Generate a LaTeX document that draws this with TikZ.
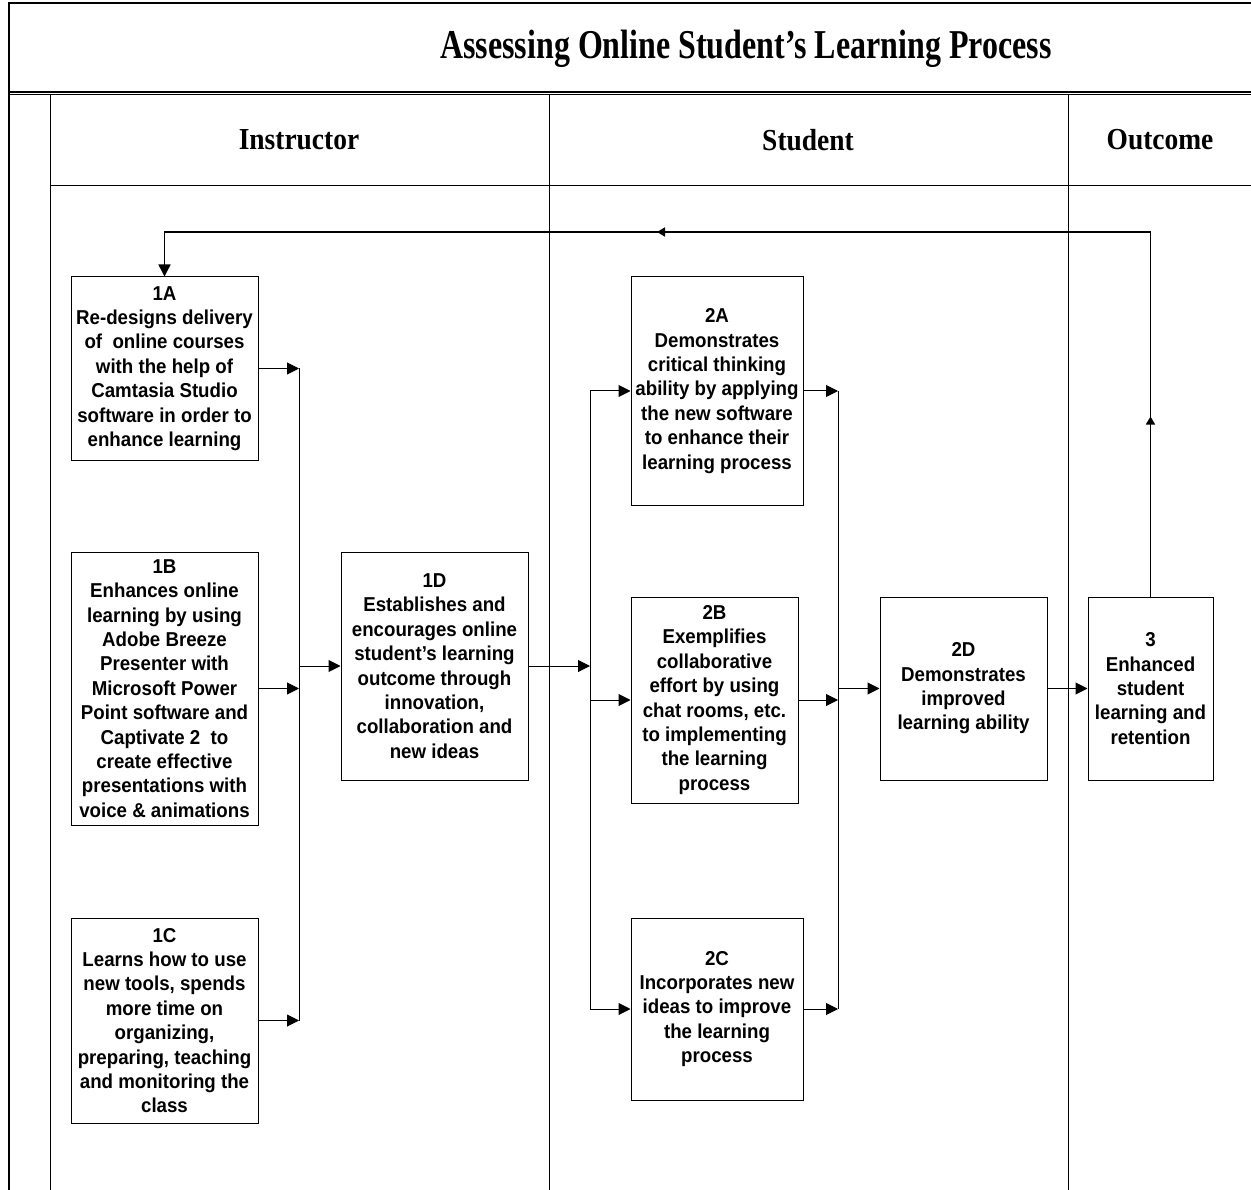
\documentclass[tikz,border=0pt]{standalone}
\usepackage{fontspec}
\setmainfont{Liberation Serif}
\newfontfamily\titlefont[FakeStretch=0.78]{Liberation Serif}
\newfontfamily\hdrfont[FakeStretch=0.9]{Liberation Serif}
\newfontfamily\boxfont[FakeStretch=0.93]{Liberation Sans}
\usetikzlibrary{arrows.meta,decorations.markings}
\begin{document}
\begin{tikzpicture}[x=1pt,y=-1pt,line width=1pt,
  box/.style={draw,line width=1pt,inner sep=0pt,align=center,
    font=\boxfont\bfseries\fontsize{20.1}{24.4}\selectfont},
  arr/.style={-{Triangle[length=12pt,width=12pt]}},
  frameline/.style={line width=1.2pt},
  hdr/.style={font=\hdrfont\bfseries\fontsize{30.5}{32}\selectfont},
  smallarr/.style={decoration={markings,
     mark=at position 180pt with {\arrow{Triangle[length=8pt,width=9pt]}},
     mark=at position 858pt with {\arrow{Triangle[length=8pt,width=9pt]}}},
     postaction={decorate}}]
\useasboundingbox (0,0) rectangle (1251,1190);
% frame
\draw[frameline] (9,1190) -- (9,3) -- (1251,3);
\draw[frameline] (9,92) -- (1251,92);
\draw[frameline] (9,94.5) -- (1251,94.5);
\draw (50.5,94.5) -- (50.5,1190);
\draw (50.5,186) -- (1251,186);
\draw (549,94.5) -- (549,1190);
\draw (1068,94.5) -- (1068,1190);
% titles
\node[font=\titlefont\bfseries\fontsize{41}{44}\selectfont] (title) at (746,49) {Assessing Online Student’s Learning Process};
\node[hdr] (hI) at (299,140) {Instructor};
\node[hdr] (hS) at (808,140) {Student};
\node[hdr] (hO) at (1160,140) {Outcome};
% boxes
\node[box,minimum width=187pt,minimum height=183pt] (n1A) at (164.5,368.5)
  {1A\\Re-designs delivery\\of~ online courses\\with the help of\\Camtasia Studio\\software in order to\\enhance learning};
\node[box,minimum width=187pt,minimum height=273pt] (n1B) at (164.5,688.5)
  {1B\\Enhances online\\learning by using\\Adobe Breeze\\Presenter with\\Microsoft Power\\Point software and\\Captivate 2~ to\\create effective\\presentations with\\voice \& animations};
\node[box,minimum width=187pt,minimum height=205pt] (n1C) at (164.5,1020.5)
  {1C\\Learns how to use\\new tools, spends\\more time on\\organizing,\\preparing, teaching\\and monitoring the\\class};
\node[box,minimum width=187pt,minimum height=228pt] (n1D) at (434.5,666)
  {1D\\Establishes and\\encourages online\\student’s learning\\outcome through\\innovation,\\collaboration and\\new ideas};
\node[box,minimum width=172pt,minimum height=228pt] (n2A) at (717,391)
  {2A\\Demonstrates\\critical thinking\\ability by applying\\the new software\\to enhance their\\learning process};
\node[box,minimum width=167pt,minimum height=206pt] (n2B) at (714.5,700)
  {2B\\Exemplifies\\collaborative\\effort by using\\chat rooms, etc.\\to implementing\\the learning\\process};
\node[box,minimum width=172pt,minimum height=182pt] (n2C) at (717,1009)
  {2C\\Incorporates new\\ideas to improve\\the learning\\process};
\node[box,minimum width=167pt,minimum height=183pt] (n2D) at (963.5,688.5)
  {2D\\Demonstrates\\improved\\learning ability};
\node[box,minimum width=125pt,minimum height=183pt] (n3) at (1150.5,688.5)
  {3\\Enhanced\\student\\learning and\\retention};
% bus coordinates
\coordinate (bus1) at (299,665);
\coordinate (bus2) at (590,665);
\coordinate (bus3) at (838,688);
\coordinate (fb) at (1150.5,232);
% instructor connectors
\draw[arr] (n1A.east) -- (n1A.east -| bus1);
\draw[arr] (n1B.east) -- (n1B.east -| bus1);
\draw[arr] (n1C.east) -- (n1C.east -| bus1);
\draw (n1A.east -| bus1) -- (n1C.east -| bus1);
\draw[arr] (n1D.west -| bus1) -- (n1D.west);
% student connectors
\draw[arr] (n1D.east) -- (n1D.east -| bus2);
\draw (n2A.west -| bus2) -- (n2C.west -| bus2);
\draw[arr] (n2A.west -| bus2) -- (n2A.west);
\draw[arr] (n2B.west -| bus2) -- (n2B.west);
\draw[arr] (n2C.west -| bus2) -- (n2C.west);
\draw[arr] (n2A.east) -- (n2A.east -| bus3);
\draw[arr] (n2B.east) -- (n2B.east -| bus3);
\draw[arr] (n2C.east) -- (n2C.east -| bus3);
\draw (n2A.east -| bus3) -- (n2C.east -| bus3);
\draw[arr] (n2D.west -| bus3) -- (n2D.west);
\draw[arr] (n2D.east) -- (n3.west);
% feedback
\draw[arr,line width=1.5pt,smallarr] (n3.north) -- (n3.north |- fb) -- (n1A.north |- fb) -- (n1A.north);
\end{tikzpicture}
\end{document}
